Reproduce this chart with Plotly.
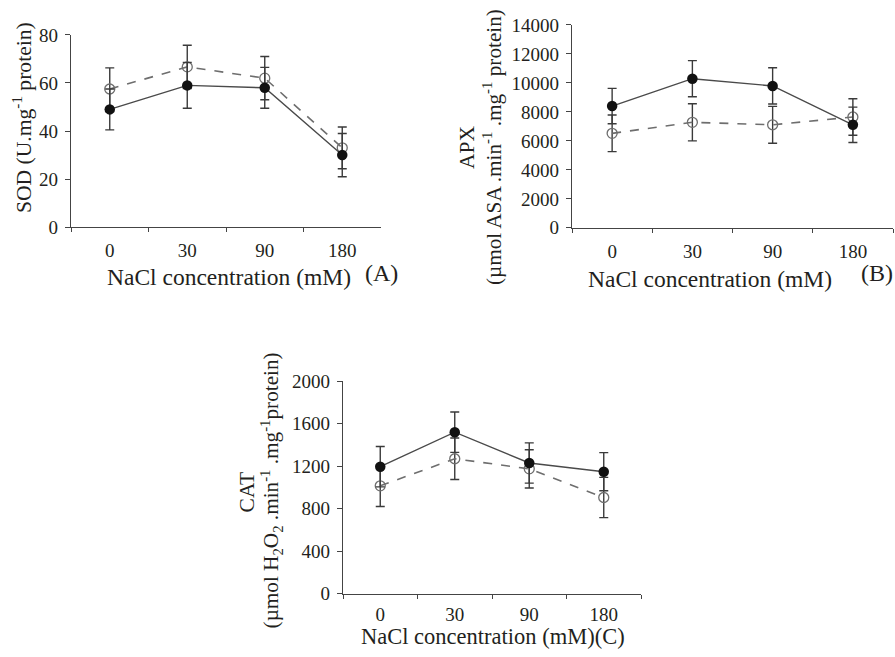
import plotly.graph_objects as go

categories = ["0", "30", "90", "180"]

sod_filled = [49, 59, 58, 30]
sod_filled_err = [8.5, 9.5, 8.5, 9]
sod_open = [57.5, 66.7, 62, 33]
sod_open_err = [8.8, 9, 9, 8.7]

apx_filled = [8400, 10290, 9790, 7110]
apx_filled_err = [1220, 1250, 1250, 1220]
apx_open = [6520, 7280, 7110, 7650]
apx_open_err = [1260, 1280, 1270, 1260]

cat_filled = [1195, 1520, 1230, 1148]
cat_filled_err = [190, 190, 190, 180]
cat_open = [1015, 1270, 1175, 905]
cat_open_err = [195, 195, 180, 190]

W, H = 895, 657
FONT = "Liberation Serif"
TXT = "#231f20"

# the photographed page is slightly squeezed vertically; compensate
SY, OFF = 0.967, 10.1

fig = go.Figure()

def px_x(x):
    return x / W

def px_y(y):
    yp = (y - OFF) / SY
    return 1 - yp / H

panels = [
    ("x", "y", sod_filled, sod_filled_err, sod_open, sod_open_err, (71, 381), (227, 35), 80, 20, 6),
    ("x2", "y2", apx_filled, apx_filled_err, apx_open, apx_open_err, (572, 893), (227.7, 25), 14000, 2000, 6),
    ("x3", "y3", cat_filled, cat_filled_err, cat_open, cat_open_err, (343, 641), (593, 381), 2000, 400, 3),
]

for i, (xa, ya, f, fe, o, oe, xd, yd, ymax, dt, so) in enumerate(panels):
    fig.add_trace(go.Scatter(
        x=categories, y=o, xaxis=xa, yaxis=ya, mode="lines+markers",
        line=dict(color="#6e6e6e", width=1.6, dash="dash"),
        marker=dict(symbol="circle-open", size=10, color="#6e6e6e", line=dict(width=1.3)),
        error_y=dict(type="data", array=oe, visible=True, color="#3a3a3a", thickness=1.4, width=4.5),
        showlegend=False, cliponaxis=False))
    fig.add_trace(go.Scatter(
        x=categories, y=f, xaxis=xa, yaxis=ya, mode="lines+markers",
        line=dict(color="#4a4a4a", width=1.4),
        marker=dict(symbol="circle", size=10.5, color="#111111"),
        error_y=dict(type="data", array=fe, visible=True, color="#3a3a3a", thickness=1.4, width=4.5),
        showlegend=False, cliponaxis=False))
    n = "" if i == 0 else str(i + 1)
    fig.layout["xaxis" + n] = dict(
        domain=[px_x(xd[0]), px_x(xd[1])], anchor=ya, type="category",
        range=[-0.5, 3.5], tickson="boundaries", ticks="outside", ticklen=4,
        tickwidth=1.2, tickcolor="#444", showline=True, linecolor="#444", linewidth=1.4,
        showgrid=False, zeroline=False, tickfont=dict(family=FONT, size=19, color=TXT),
        ticklabelstandoff=so)
    fig.layout["yaxis" + n] = dict(
        domain=[px_y(yd[0]), px_y(yd[1])], anchor=xa, range=[0, ymax], dtick=dt,
        tick0=0, tickformat="d", ticks="outside", ticklen=5, tickwidth=1.2, tickcolor="#444",
        showline=True, linecolor="#444", linewidth=1.4, showgrid=False, zeroline=False,
        tickfont=dict(family=FONT, size=19, color=TXT), ticklabelstandoff=3)

ann = []
def add(text, x, y, size=21, angle=0, anchor="center", yanchor="middle", yshift=0):
    ann.append(dict(text=text, x=px_x(x), y=max(0, px_y(y)), xref="paper", yref="paper",
                    showarrow=False, textangle=angle, xanchor=anchor, yanchor=yanchor,
                    yshift=yshift, borderpad=0,
                    font=dict(family=FONT, size=size, color=TXT)))

# y titles
add("SOD (U.mg<sup>-1</sup> protein)", 22, 118, 21.6, -90)
add("APX", 467, 147, 21.5, -90)
add("(µmol ASA .min<sup>-1</sup> .mg<sup>-1</sup> protein)", 492, 147, 21.2, -90)
add("CAT", 247, 492, 21.5, -90)
add("(µmol H<sub>2</sub>O<sub>2</sub> .min<sup>-1</sup> .mg<sup>-1</sup>protein)", 271, 490, 21.2, -90)

# x titles
add("NaCl concentration (mM)", 229, 277, 23.5)
add("(A)", 381, 273, 24)
add("NaCl concentration (mM)", 710, 279, 23.5)
add("(B)", 894, 273, 24, anchor="right")
add("NaCl concentration (mM)(C)", 493, 700, 22.5, yanchor="bottom", yshift=-4)

fig.update_layout(
    width=W, height=H, margin=dict(l=0, r=0, t=0, b=0),
    paper_bgcolor="white", plot_bgcolor="white", annotations=ann,
)

fig.write_html("out.html", config={"displayModeBar": False},
               post_script="document.body.style.margin='0';document.body.style.overflow='hidden';")
